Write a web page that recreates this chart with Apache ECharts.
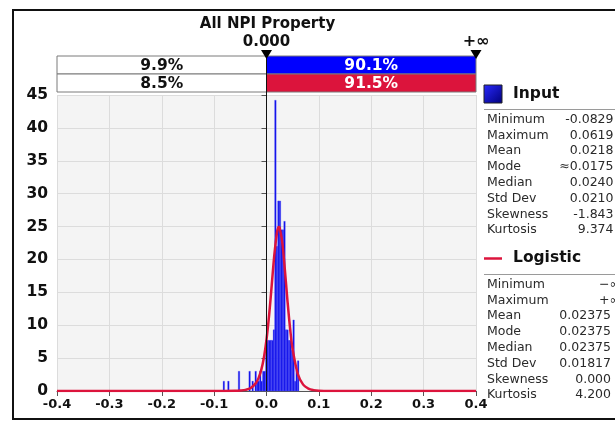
<!DOCTYPE html>
<html>
<head>
<meta charset="utf-8">
<script src="https://cdn.jsdelivr.net/npm/echarts@6/dist/echarts.min.js"></script>
<style>
  html, body { margin: 0; padding: 0; background: #ffffff; }
  #chart { width: 615px; height: 423px; }
</style>
</head>
<body>
<div id="chart"></div>
<script>
// Histogram of the input sample (density scale), 50 equal bins from min to max
const histMin = -0.0829;
const histMax = 0.0619;
const binDensity = [
  1.5, 0, 0, 1.5, 0, 0, 0, 0, 0, 0,
  3.0, 0, 0, 0, 0, 0, 0, 3.0, 0, 1.5,
  0, 3.0, 1.5, 1.5, 3.0, 1.5, 3.0, 3.0, 7.7, 7.7,
  7.7, 7.7, 7.7, 9.3, 44.2, 22.0, 28.9, 28.9, 24.5, 24.5,
  25.8, 9.3, 9.3, 7.7, 7.7, 6.2, 10.8, 1.5, 3.1, 4.6
];

// Fitted logistic density curve
const fitX = [-0.4, -0.2, -0.1, -0.08, -0.06, -0.05, -0.04, -0.03, -0.02, -0.015,
  -0.01, -0.005, 0, 0.005, 0.01, 0.015, 0.02, 0.0225, 0.02375, 0.025,
  0.03, 0.035, 0.04, 0.045, 0.05, 0.06, 0.07, 0.08, 0.09, 0.1,
  0.12, 0.2, 0.4];
const fitY = [0, 0, 0.001, 0.003, 0.023, 0.063, 0.171, 0.464, 1.234, 2.0,
  3.21, 5.06, 7.80, 11.53, 16.10, 20.74, 24.10, 24.86, 24.95, 24.86,
  22.68, 18.49, 13.75, 9.54, 6.31, 2.54, 0.97, 0.36, 0.134, 0.049,
  0.007, 0, 0];

// Target-range bars above the plot
const rangeLow = '0.000';
const rangeHigh = '+∞';
const inputPct = ['9.9%', '90.1%'];
const fitPct = ['8.5%', '91.5%'];

// Statistics panels
const statNames = ['Minimum', 'Maximum', 'Mean', 'Mode', 'Median', 'Std Dev', 'Skewness', 'Kurtosis'];
const inputStats = ['-0.0829', '0.0619', '0.0218', '≈0.0175', '0.0240', '0.0210', '-1.843', '9.374'];
const logisticStats = ['−∞', '+∞', '0.02375', '0.02375', '0.02375', '0.01817', '0.000', '4.200'];

const BLUE = '#0000ff';
const RED = '#dc143c';
const FONT = 'DejaVu Sans, Verdana, sans-serif';

const binWidth = (histMax - histMin) / binDensity.length;
const histData = binDensity.map((d, i) => [histMin + i * binWidth, histMin + (i + 1) * binWidth, d]);
const fitData = fitX.map((x, i) => [x, fitY[i]]);

const chart = echarts.init(document.getElementById('chart'), null, { renderer: 'canvas' });

chart.setOption({
  animation: false,
  backgroundColor: '#ffffff',
  grid: {
    left: 57, right: 139, top: 95, bottom: 32,
    show: true, backgroundColor: '#f4f4f4', borderWidth: 0
  },
  xAxis: {
    type: 'value', min: -0.4, max: 0.4, interval: 0.1,
    axisLine: { show: true, onZero: false, lineStyle: { color: '#555', width: 1 } },
    axisTick: { show: true, length: 5, lineStyle: { color: '#555' } },
    axisLabel: {
      color: '#111', fontFamily: FONT, fontWeight: 'bold', fontSize: 13, margin: 7,
      formatter: v => (Math.abs(v) < 1e-9 ? 0 : v).toFixed(1)
    },
    splitLine: { show: true, lineStyle: { color: '#dcdcdc', width: 1 } }
  },
  yAxis: {
    type: 'value', min: 0, max: 45, interval: 5,
    axisLine: { show: true, lineStyle: { color: '#555', width: 1 } },
    axisTick: { show: true, length: 5, lineStyle: { color: '#555' } },
    axisLabel: { color: '#111', fontFamily: FONT, fontWeight: 'bold', fontSize: 15.5, margin: 9 },
    splitLine: { show: true, lineStyle: { color: '#dcdcdc', width: 1 } }
  },
  series: [
    {
      type: 'custom',
      data: histData,
      encode: { x: [0, 1], y: 2 },
      z: 2,
      renderItem: function (params, api) {
        const h = api.value(2);
        if (!h) return null;
        const p0 = api.coord([api.value(0), h]);
        const p1 = api.coord([api.value(1), 0]);
        return {
          type: 'rect',
          shape: { x: p0[0], y: p0[1], width: p1[0] - p0[0], height: p1[1] - p0[1] },
          style: { fill: '#0a0ae8', stroke: 'rgba(90,90,255,0.8)', lineWidth: 0.4 }
        };
      }
    },
    {
      type: 'line',
      data: fitData,
      smooth: 0.35,
      showSymbol: false,
      z: 4,
      lineStyle: { color: RED, width: 2.5 }
    }
  ]
});

// Annotations: title, range markers, percentage bars, stats panels
function drawOverlay() {
  const zero = chart.convertToPixel({ gridIndex: 0 }, [0, 0]);
  const leftEdge = chart.convertToPixel({ gridIndex: 0 }, [-0.4, 45]);
  const rightEdge = chart.convertToPixel({ gridIndex: 0 }, [0.4, 45]);
  const x0 = zero[0], xl = leftEdge[0], xr = rightEdge[0];
  const yBase = zero[1];
  const row1 = 56, rowH = 18;

  const els = [];
  // outer frame
  els.push({ type: 'rect', shape: { x: 13, y: 10, width: 620, height: 409 },
    style: { fill: 'none', stroke: '#111', lineWidth: 2 }, z: 20 });
  // title
  els.push({ type: 'text', x: (xl + xr) / 2 + 1, y: 24,
    style: { text: 'All NPI Property', font: 'bold 15px ' + FONT, fill: '#111', align: 'center', verticalAlign: 'middle' }, z: 20 });
  els.push({ type: 'text', x: x0, y: 42,
    style: { text: rangeLow, font: 'bold 15px ' + FONT, fill: '#111', align: 'center', verticalAlign: 'middle' }, z: 20 });
  els.push({ type: 'text', x: xr, y: 42,
    style: { text: rangeHigh, font: 'bold 16px ' + FONT, fill: '#111', align: 'center', verticalAlign: 'middle' }, z: 20 });

  // percentage bars
  const rows = [
    { pct: inputPct, color: BLUE },
    { pct: fitPct, color: RED }
  ];
  rows.forEach((r, i) => {
    const y = row1 + i * rowH;
    els.push({ type: 'rect', shape: { x: xl, y: y, width: x0 - xl, height: rowH },
      style: { fill: '#ffffff', stroke: '#7a7a7a', lineWidth: 1 }, z: 18 });
    els.push({ type: 'rect', shape: { x: x0, y: y, width: xr - x0, height: rowH },
      style: { fill: r.color, stroke: '#7a7a7a', lineWidth: 1 }, z: 18 });
    els.push({ type: 'text', x: (xl + x0) / 2, y: y + rowH / 2 + 1,
      style: { text: r.pct[0], font: 'bold 15.5px ' + FONT, fill: '#111', align: 'center', verticalAlign: 'middle' }, z: 19 });
    els.push({ type: 'text', x: (x0 + xr) / 2, y: y + rowH / 2 + 1,
      style: { text: r.pct[1], font: 'bold 15.5px ' + FONT, fill: '#ffffff', align: 'center', verticalAlign: 'middle' }, z: 19 });
  });

  // vertical marker line at the lower bound and triangles
  els.push({ type: 'line', shape: { x1: x0, y1: 52, x2: x0, y2: yBase },
    style: { stroke: '#111', lineWidth: 1 }, z: 21 });
  [x0, xr].forEach(x => {
    els.push({ type: 'polygon', shape: { points: [[x - 5.5, 50], [x + 5.5, 50], [x, 59]] },
      style: { fill: '#000' }, z: 22 });
  });

  // Input panel
  els.push({ type: 'rect', shape: { x: 484, y: 85, width: 18, height: 18 },
    style: {
      fill: new echarts.graphic.LinearGradient(0, 0, 1, 1, [
        { offset: 0, color: '#2a2aff' }, { offset: 1, color: '#00007a' }
      ]),
      stroke: '#222', lineWidth: 1
    }, z: 20 });
  els.push({ type: 'text', x: 513, y: 94,
    style: { text: 'Input', font: 'bold 15.5px ' + FONT, fill: '#111', verticalAlign: 'middle' }, z: 20 });
  els.push({ type: 'line', shape: { x1: 484, y1: 109.5, x2: 616, y2: 109.5 },
    style: { stroke: '#9a9a9a', lineWidth: 1 }, z: 20 });
  statNames.forEach((n, i) => {
    const y = 119.5 + i * 15.8;
    els.push({ type: 'text', x: 487, y: y,
      style: { text: n, font: '12.5px ' + FONT, fill: '#2a2a2a', verticalAlign: 'middle' }, z: 20 });
    els.push({ type: 'text', x: 613.5, y: y,
      style: { text: inputStats[i], font: '12.5px ' + FONT, fill: '#2a2a2a', align: 'right', verticalAlign: 'middle' }, z: 20 });
  });

  // Logistic panel
  els.push({ type: 'line', shape: { x1: 484, y1: 258.5, x2: 502, y2: 258.5 },
    style: { stroke: RED, lineWidth: 2.5 }, z: 20 });
  els.push({ type: 'text', x: 513, y: 258,
    style: { text: 'Logistic', font: 'bold 15.5px ' + FONT, fill: '#111', verticalAlign: 'middle' }, z: 20 });
  els.push({ type: 'line', shape: { x1: 484, y1: 274.5, x2: 616, y2: 274.5 },
    style: { stroke: '#9a9a9a', lineWidth: 1 }, z: 20 });
  statNames.forEach((n, i) => {
    const y = 284.5 + i * 15.8;
    const inf = i < 2;
    els.push({ type: 'text', x: 487, y: y,
      style: { text: n, font: '12.5px ' + FONT, fill: '#2a2a2a', verticalAlign: 'middle' }, z: 20 });
    els.push({ type: 'text', x: inf ? 620 : 611, y: y,
      style: { text: logisticStats[i], font: '12.5px ' + FONT, fill: '#2a2a2a', align: 'right', verticalAlign: 'middle' }, z: 20 });
  });

  chart.setOption({ graphic: { elements: els } });
}

drawOverlay();
</script>
</body>
</html>
